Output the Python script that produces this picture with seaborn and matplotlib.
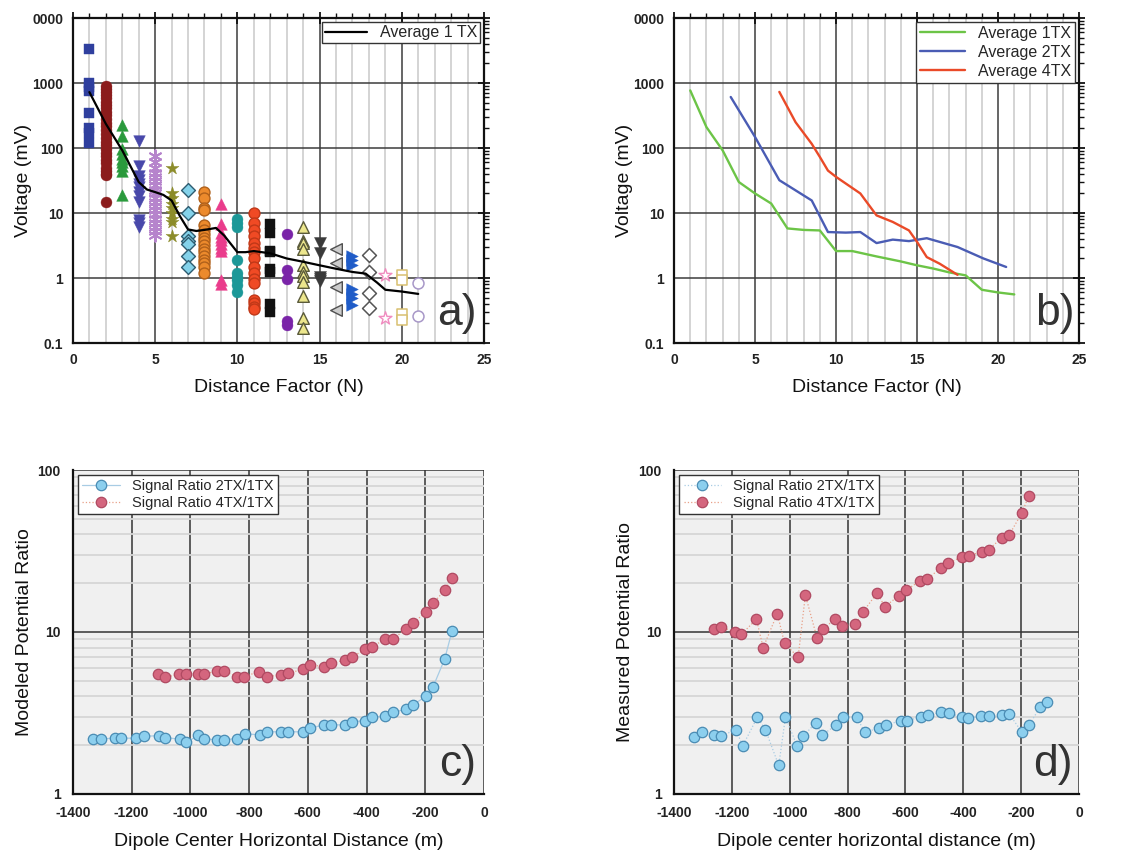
import numpy as np
import pandas as pd
import matplotlib
matplotlib.use("Agg")
import matplotlib.pyplot as plt
import seaborn as sns
from matplotlib.ticker import FixedLocator, FixedFormatter, LogLocator, NullFormatter, MultipleLocator

sns.set_style("white")
plt.rcParams['font.family'] = ['Liberation Sans', 'DejaVu Sans']

# ---------------- panel a: measured voltages per distance factor N ----------------
volt_n1 = [3300, 1000, 870, 750, 340, 200, 170, 120]
volt_n2 = [900, 820, 740, 660, 590, 520, 460, 410, 360, 320, 280, 245, 215, 190, 165,
           145, 125, 110, 95, 85, 75, 65, 58, 50, 45, 40, 38, 15]
volt_n3 = [225, 155, 95, 80, 68, 60, 53, 45, 19]
volt_n4 = [130, 52, 37, 32, 28, 25, 21, 18, 15, 7.8, 7.0, 6.2]
volt_n5 = [75, 62, 50, 42, 36, 31, 27, 23, 20, 17, 15, 13, 11, 9.5, 8.2, 7.0, 6.0, 5.2, 4.6]
volt_n6 = [50, 20, 17, 14, 12, 10, 8.0, 7.3, 4.4]
volt_n7 = [23, 10, 4.5, 3.7, 3.3, 2.2, 1.5]
volt_n8 = [21, 17, 12, 11, 6.5, 5.5, 4.8, 4.2, 3.7, 3.2, 2.8, 2.5, 2.2, 1.9, 1.7, 1.5, 1.2]
volt_n9 = [14, 6.8, 5.0, 4.3, 3.8, 3.3, 2.9, 2.6, 0.92, 0.82]
volt_n10 = [8.2, 7.0, 6.2, 1.9, 1.2, 1.05, 0.92, 0.78, 0.62]
volt_n11 = [10, 7.0, 5.5, 4.4, 3.5, 2.9, 2.5, 2.0, 1.5, 1.2, 0.98, 0.85, 0.46, 0.41, 0.36, 0.33]
volt_n12 = [6.7, 5.0, 2.6, 2.5, 1.4, 1.25, 0.40, 0.30]
volt_n13 = [4.8, 1.35, 0.98, 0.22, 0.19]
volt_n14 = [6.2, 3.7, 3.4, 2.8, 1.57, 1.24, 1.06, 0.87, 0.52, 0.24, 0.17]
volt_n15 = [3.4, 2.4, 1.02, 0.95, 0.90]
volt_n16 = [2.8, 1.72, 0.73, 0.32]
volt_n17 = [2.2, 1.87, 1.6, 0.68, 0.57, 0.49, 0.38]
volt_n18 = [2.25, 1.24, 0.59, 0.34]
volt_n19 = [1.1, 0.24]
volt_n20 = [1.1, 0.92, 0.28, 0.23]
volt_n21 = [0.84, 0.26]

voltages_by_n = [volt_n1, volt_n2, volt_n3, volt_n4, volt_n5, volt_n6, volt_n7,
                 volt_n8, volt_n9, volt_n10, volt_n11, volt_n12, volt_n13, volt_n14,
                 volt_n15, volt_n16, volt_n17, volt_n18, volt_n19, volt_n20, volt_n21]

avg1_n = [1, 2, 3, 4, 4.5, 5, 5.5, 6, 6.5, 7, 7.5, 8, 8.7, 9.2, 10, 10.5, 11, 12, 13, 14,
          15, 16, 17, 17.8, 18.5, 19, 20, 21]
avg1_v = [725, 236, 92, 30, 23, 21, 19, 15.6, 9.0, 5.6, 5.3, 5.5, 5.9, 4.5, 2.5, 2.5, 2.6,
          2.4, 2.0, 1.78, 1.57, 1.39, 1.24, 1.17, 0.85, 0.66, 0.62, 0.57]

# ---------------- panel b: averaged curves for 1, 2 and 4 transmitters ----------------
b1_n = [1, 2, 3, 4, 5, 6, 7, 8, 9, 10, 11, 12.5, 14, 15, 16, 17, 18, 19, 20, 21]
b1_v = [770, 210, 92, 30, 20, 14, 5.8, 5.5, 5.4, 2.6, 2.6, 2.15, 1.8, 1.57, 1.4, 1.22, 1.1,
        0.66, 0.6, 0.56]
b2_n = [3.5, 5, 6.5, 8.5, 9.5, 10.6, 11.5, 12.5, 13.5, 14.5, 15.6, 17.5, 19.1, 20.5]
b2_v = [610, 148, 32, 15.6, 5.1, 5.0, 5.1, 3.45, 3.9, 3.7, 4.1, 3.0, 2.0, 1.48]
b4_n = [6.5, 7.5, 8.5, 9.0, 9.5, 10, 11.5, 12.5, 13.5, 14.5, 15, 15.6, 16.4, 17.5]
b4_v = [730, 250, 116, 73, 45, 36, 20, 9.2, 7.3, 5.4, 3.6, 2.1, 1.66, 1.12]

# ---------------- panel c: modeled potential ratios ----------------
c_x2 = [-1330, -1304, -1258, -1235, -1184, -1159, -1108, -1086, -1037, -1014, -974, -953,
        -910, -887, -842, -815, -764, -739, -691, -668, -615, -592, -546, -520, -473, -450,
        -405, -382, -336, -310, -265, -242, -198, -174, -134, -109]
c_r2 = [2.19, 2.19, 2.21, 2.21, 2.21, 2.27, 2.29, 2.23, 2.18, 2.08, 2.30, 2.19, 2.16, 2.16,
        2.20, 2.35, 2.32, 2.42, 2.42, 2.42, 2.42, 2.55, 2.67, 2.67, 2.67, 2.80, 2.83, 2.97,
        3.04, 3.19, 3.34, 3.55, 4.0, 4.56, 6.8, 10.1]
c_x4 = [-1110, -1086, -1038, -1015, -974, -953, -910, -887, -842, -817, -765, -739, -692,
        -668, -615, -592, -546, -520, -473, -450, -405, -382, -336, -310, -265, -242, -198,
        -174, -134, -109]
c_r4 = [5.49, 5.26, 5.49, 5.49, 5.49, 5.49, 5.75, 5.75, 5.31, 5.31, 5.70, 5.31, 5.44, 5.56,
        5.89, 6.26, 6.12, 6.41, 6.72, 6.99, 7.82, 8.12, 9.02, 9.02, 10.5, 11.3, 13.3, 15.0,
        18.1, 21.6]

# ---------------- panel d: measured potential ratios ----------------
d_x2 = [-1331, -1303, -1262, -1236, -1187, -1162, -1112, -1084, -1038, -1015, -975, -954,
        -911, -887, -841, -816, -768, -741, -693, -668, -617, -594, -547, -522, -476, -451,
        -405, -384, -338, -312, -266, -242, -197, -174, -134, -110]
d_r2 = [2.24, 2.40, 2.32, 2.29, 2.49, 1.99, 2.98, 2.49, 1.50, 2.98, 1.99, 2.27, 2.74, 2.32,
        2.65, 2.98, 2.98, 2.40, 2.55, 2.65, 2.84, 2.84, 2.98, 3.08, 3.19, 3.16, 2.98, 2.94,
        3.04, 3.01, 3.07, 3.13, 2.40, 2.65, 3.44, 3.72]
d_x4 = [-1262, -1236, -1190, -1167, -1115, -1092, -1043, -1018, -971, -946, -906, -885,
        -842, -819, -773, -747, -697, -672, -624, -599, -549, -524, -476, -453, -405, -382,
        -336, -312, -266, -242, -197, -174]
d_r4 = [10.4, 10.7, 10.0, 9.68, 12.0, 8.0, 13.0, 8.5, 7.0, 16.9, 9.23, 10.4, 12.1, 10.9,
        11.2, 13.3, 17.5, 14.3, 16.7, 18.1, 20.7, 21.3, 25.0, 26.5, 29.1, 29.5, 31.3, 32.3,
        38.3, 39.6, 54.6, 69.2]

voltage_ticks = [0.1, 1, 10, 100, 1000, 10000]
voltage_tick_labels = ["0.1", "1", "10", "100", "1000", "0000"]
ratio_ticks = [1, 10, 100]
ratio_tick_labels = ["1", "10", "100"]
dist_ticks = [-1400, -1200, -1000, -800, -600, -400, -200, 0]
dist_tick_labels = ["-1400", "-1200", "-1000", "-800", "-600", "-400", "-200", "0"]

# marker styles for each N column: (marker, face, edge, size, edge width)
n_styles = [
    ("s", "#2f3f9e", "#2f3f9e", 55, 0.3),
    ("o", "#8b1c1c", "#8b1c1c", 62, 0.3),
    ("^", "#2a9a3c", "#2a9a3c", 70, 0.3),
    ("v", "#4848aa", "#4848aa", 70, 0.3),
    ((6, 2, 0), "#b684cc", "#b684cc", 80, 1.4),
    ("*", "#8c8c2a", "#8c8c2a", 95, 0.3),
    ("D", "#84d2ea", "#2e5c70", 50, 1.0),
    ("o", "#ec8a2c", "#b0601a", 62, 1.0),
    ("^", "#ea3c8c", "#ea3c8c", 70, 0.3),
    ("o", "#1c9898", "#1c9898", 62, 0.3),
    ("o", "#f04a24", "#c03818", 62, 1.0),
    ("s", "#111111", "#111111", 55, 0.3),
    ("o", "#7a24a8", "#7a24a8", 62, 0.3),
    ("^", "#ece68c", "#5a5a3a", 70, 1.0),
    ("v", "#3a3a3a", "#3a3a3a", 75, 0.3),
    ("<", "#cccccc", "#505050", 70, 1.0),
    (">", "#1f5cc8", "#1f5cc8", 70, 0.3),
    ("D", "white", "#555555", 50, 1.1),
    ("*", "white", "#f08cc0", 95, 1.0),
    ("s", "white", "#d8c070", 60, 1.1),
    ("o", "white", "#a898c8", 62, 1.1),
]

fig = plt.figure(figsize=(11.38, 8.51), dpi=100)
ax_a = fig.add_axes([0.0641, 0.5969, 0.3612, 0.3819])
ax_b = fig.add_axes([0.5923, 0.5969, 0.3559, 0.3819])
ax_c = fig.add_axes([0.0641, 0.0670, 0.3612, 0.3807])
ax_d = fig.add_axes([0.5923, 0.0670, 0.3559, 0.3807])

TICK_FONT = dict(fontsize=10, fontweight="bold", color="#222222")
LABEL_FONT = dict(fontsize=14, color="#111111")
LETTER_FONT = dict(fontsize=32, color="#333333", ha="center", va="center")


def style_voltage_axes(ax):
    ax.set_yscale("log")
    ax.set_xlim(0, 25)
    ax.set_ylim(0.1, 10000)
    ax.yaxis.set_major_locator(FixedLocator(voltage_ticks))
    ax.yaxis.set_major_formatter(FixedFormatter(voltage_tick_labels))
    ax.yaxis.set_minor_locator(LogLocator(base=10, subs=np.arange(2, 10)))
    ax.yaxis.set_minor_formatter(NullFormatter())
    ax.xaxis.set_major_locator(MultipleLocator(5))
    ax.xaxis.set_minor_locator(MultipleLocator(1))
    ax.set_axisbelow(True)
    ax.grid(which="minor", axis="x", color="#d4d4d4", lw=1.4)
    ax.grid(which="major", axis="both", color="#3c3c3c", lw=1.1)
    ax.grid(which="minor", axis="y", visible=False)
    for sp in ax.spines.values():
        sp.set_visible(True)
        sp.set_color("#111111")
        sp.set_linewidth(1.6)
    ax.tick_params(which="major", direction="inout", length=8, width=1.3,
                   top=True, right=True, colors="#111111", pad=3)
    ax.tick_params(which="minor", direction="out", length=3.5, width=1.0,
                   top=True, right=True, colors="#111111")
    for lab in ax.get_xticklabels() + ax.get_yticklabels():
        lab.set_fontsize(TICK_FONT["fontsize"])
        lab.set_fontweight(TICK_FONT["fontweight"])
        lab.set_color(TICK_FONT["color"])
    ax.set_xlabel("Distance Factor (N)", labelpad=9, **LABEL_FONT)
    ax.set_ylabel("Voltage (mV)", labelpad=0, **LABEL_FONT)


def style_ratio_axes(ax, xlabel, ylabel):
    ax.set_facecolor("#f0f0f0")
    ax.set_yscale("log")
    ax.set_xlim(-1400, 0)
    ax.set_ylim(1, 100)
    ax.yaxis.set_major_locator(FixedLocator(ratio_ticks))
    ax.yaxis.set_major_formatter(FixedFormatter(ratio_tick_labels))
    ax.yaxis.set_minor_locator(LogLocator(base=10, subs=np.arange(2, 10)))
    ax.yaxis.set_minor_formatter(NullFormatter())
    ax.xaxis.set_major_locator(FixedLocator(dist_ticks))
    ax.xaxis.set_major_formatter(FixedFormatter(dist_tick_labels))
    ax.set_axisbelow(True)
    ax.grid(which="minor", axis="y", color="#d6d6d6", lw=1.3)
    ax.grid(which="major", axis="both", color="#333333", lw=1.1)
    for name, sp in ax.spines.items():
        if name in ("top", "right"):
            sp.set_visible(False)
        else:
            sp.set_visible(True)
            sp.set_color("#111111")
            sp.set_linewidth(1.6)
    ax.tick_params(which="major", direction="out", length=6, width=1.3,
                   colors="#111111", pad=3)
    ax.tick_params(which="minor", direction="out", length=3.5, width=1.0,
                   colors="#111111")
    for lab in ax.get_xticklabels() + ax.get_yticklabels():
        lab.set_fontsize(TICK_FONT["fontsize"])
        lab.set_fontweight(TICK_FONT["fontweight"])
        lab.set_color(TICK_FONT["color"])
    ax.set_xlabel(xlabel, labelpad=9, **LABEL_FONT)
    ax.set_ylabel(ylabel, labelpad=3, **LABEL_FONT)


# ---- a) scatter of every reading plus the averaged curve ----
ax_a.set_yscale("log")
for n, (vals, (mk, face, edge, size, ew)) in enumerate(zip(voltages_by_n, n_styles), start=1):
    df = pd.DataFrame({"N": [n] * len(vals), "V": vals})
    sns.scatterplot(data=df, x="N", y="V", ax=ax_a, marker=mk, color=face,
                    edgecolor=edge, linewidth=ew, s=size, legend=False, zorder=3)
sns.lineplot(x=avg1_n, y=avg1_v, ax=ax_a, color="black", lw=1.6, sort=False,
             estimator=None, label="Average 1 TX", zorder=4)
style_voltage_axes(ax_a)
leg = ax_a.legend(loc="upper right", fontsize=11.5, frameon=True, fancybox=False,
                  edgecolor="#333333", framealpha=1, borderaxespad=0.25,
                  handlelength=2.6, borderpad=0.2)
leg.get_frame().set_linewidth(1.0)
ax_a.text(0.935, 0.09, "a)", transform=ax_a.transAxes, **LETTER_FONT)

# ---- b) averaged voltage curves ----
ax_b.set_yscale("log")
sns.lineplot(x=b1_n, y=b1_v, ax=ax_b, color="#6cc447", lw=1.7, sort=False,
             estimator=None, label="Average 1TX")
sns.lineplot(x=b2_n, y=b2_v, ax=ax_b, color="#4a5cb4", lw=1.7, sort=False,
             estimator=None, label="Average 2TX")
sns.lineplot(x=b4_n, y=b4_v, ax=ax_b, color="#ea4a28", lw=1.7, sort=False,
             estimator=None, label="Average 4TX")
style_voltage_axes(ax_b)
leg = ax_b.legend(loc="upper right", fontsize=11.5, frameon=True, fancybox=False,
                  edgecolor="#333333", framealpha=1, borderaxespad=0.25,
                  handlelength=2.8, borderpad=0.25, labelspacing=0.25)
leg.get_frame().set_linewidth(1.0)
ax_b.text(0.94, 0.09, "b)", transform=ax_b.transAxes, **LETTER_FONT)


# ---- c) and d) potential ratios ----
def ratio_series(ax, x, y, face, edge, line, ls, label):
    sns.lineplot(x=x, y=y, ax=ax, sort=False, estimator=None, color=line, lw=0.9,
                 linestyle=ls, marker="o", markersize=7.5, markerfacecolor=face,
                 markeredgecolor=edge, markeredgewidth=0.9, label=label, zorder=3)


for ax, xs2, rs2, xs4, rs4, ls2, xl, yl, letter in [
    (ax_c, c_x2, c_r2, c_x4, c_r4, "-", "Dipole Center Horizontal Distance (m)",
     "Modeled Potential Ratio", "c)"),
    (ax_d, d_x2, d_r2, d_x4, d_r4, ":", "Dipole center horizontal distance (m)",
     "Measured Potential Ratio", "d)"),
]:
    ax.set_yscale("log")
    ratio_series(ax, xs2, rs2, "#8ccfee", "#4a8cb4", "#a8cce4", ls2,
                 "Signal Ratio 2TX/1TX")
    ratio_series(ax, xs4, rs4, "#d4667e", "#b04a62", "#e8a088", ":",
                 "Signal Ratio 4TX/1TX")
    style_ratio_axes(ax, xl, yl)
    leg = ax.legend(loc="upper left", fontsize=10.5, frameon=True, fancybox=False,
                    edgecolor="#333333", framealpha=1, borderaxespad=0.35,
                    handlelength=2.6, borderpad=0.3, labelspacing=0.15)
    leg.get_frame().set_linewidth(1.0)
    ax.text(0.935, 0.09, letter, transform=ax.transAxes, **LETTER_FONT)

fig.savefig("out.png", dpi=100, facecolor="white")
